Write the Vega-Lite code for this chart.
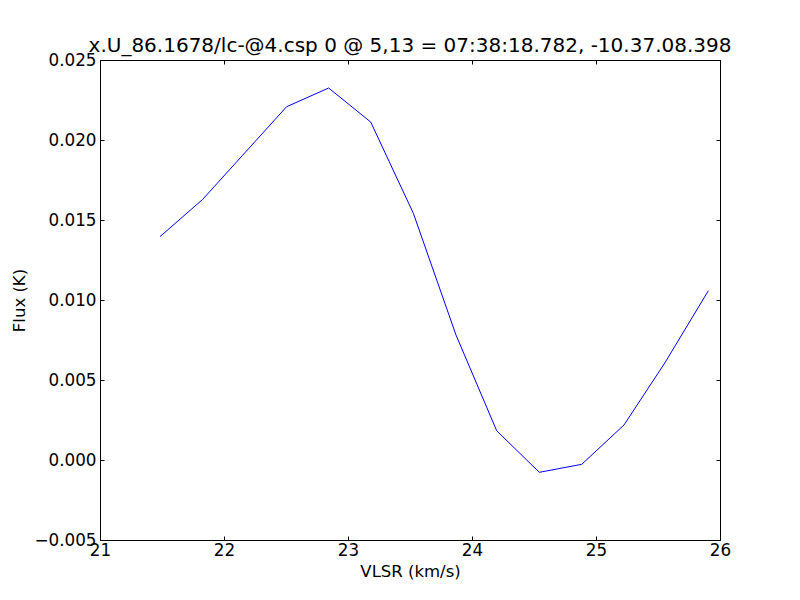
{
  "$schema": "https://vega.github.io/schema/vega-lite/v6.json",
  "autosize": {"type": "none"},
  "width": 620,
  "height": 480,
  "padding": {"left": 100, "top": 60, "right": 80, "bottom": 60},
  "background": "white",
  "title": {
    "text": "x.U_86.1678/lc-@4.csp 0 @ 5,13 = 07:38:18.782, -10.37.08.398",
    "font": "DejaVu Sans",
    "fontSize": 20,
    "fontWeight": "normal",
    "color": "black",
    "anchor": "middle",
    "offset": -4
  },
  "config": {
    "view": {"stroke": "black", "strokeWidth": 1},
    "axis": {
      "labelFont": "DejaVu Sans",
      "labelFontSize": 16.8,
      "labelColor": "black",
      "titleFont": "DejaVu Sans",
      "titleFontSize": 16.5,
      "titleFontWeight": "normal",
      "titleColor": "black",
      "tickColor": "black",
      "tickSize": -4,
      "tickWidth": 1,
      "domain": false,
      "grid": false
    }
  },
  "data": {
    "values": [
      {"v": 21.484, "f": 0.01396},
      {"v": 21.828, "f": 0.01629},
      {"v": 22.167, "f": 0.01919},
      {"v": 22.505, "f": 0.02208},
      {"v": 22.844, "f": 0.02325},
      {"v": 23.183, "f": 0.021125},
      {"v": 23.527, "f": 0.01542},
      {"v": 23.871, "f": 0.00781},
      {"v": 24.199, "f": 0.00183},
      {"v": 24.543, "f": -0.00077},
      {"v": 24.885, "f": -0.00027},
      {"v": 25.226, "f": 0.00219},
      {"v": 25.556, "f": 0.00608},
      {"v": 25.906, "f": 0.01058}
    ]
  },
  "layer": [
    {
      "mark": {"type": "line", "color": "#0000ff", "strokeWidth": 1, "clip": true},
      "encoding": {
        "x": {
          "field": "v", "type": "quantitative",
          "scale": {"domain": [21, 26], "nice": false, "zero": false},
          "axis": {"title": "VLSR (km/s)", "values": [21, 22, 23, 24, 25, 26], "format": "d", "labelPadding": 6, "titlePadding": 5, "labelFlush": false}
        },
        "y": {
          "field": "f", "type": "quantitative",
          "scale": {"domain": [-0.005, 0.025], "nice": false, "zero": false},
          "axis": {"title": "Flux (K)", "values": [-0.005, 0, 0.005, 0.01, 0.015, 0.02, 0.025], "format": ".3f", "labelPadding": 8, "titlePadding": 6, "labelFlush": false}
        }
      }
    },
    {
      "mark": {"type": "line", "opacity": 0},
      "encoding": {
        "x": {
          "field": "v", "type": "quantitative",
          "scale": {"domain": [21, 26], "nice": false, "zero": false},
          "axis": {"orient": "top", "title": null, "labels": false, "values": [21, 22, 23, 24, 25, 26]}
        },
        "y": {
          "field": "f", "type": "quantitative",
          "scale": {"domain": [-0.005, 0.025], "nice": false, "zero": false},
          "axis": {"orient": "right", "title": null, "labels": false, "values": [-0.005, 0, 0.005, 0.01, 0.015, 0.02, 0.025]}
        }
      }
    }
  ],
  "resolve": {"axis": {"x": "independent", "y": "independent"}}
}
